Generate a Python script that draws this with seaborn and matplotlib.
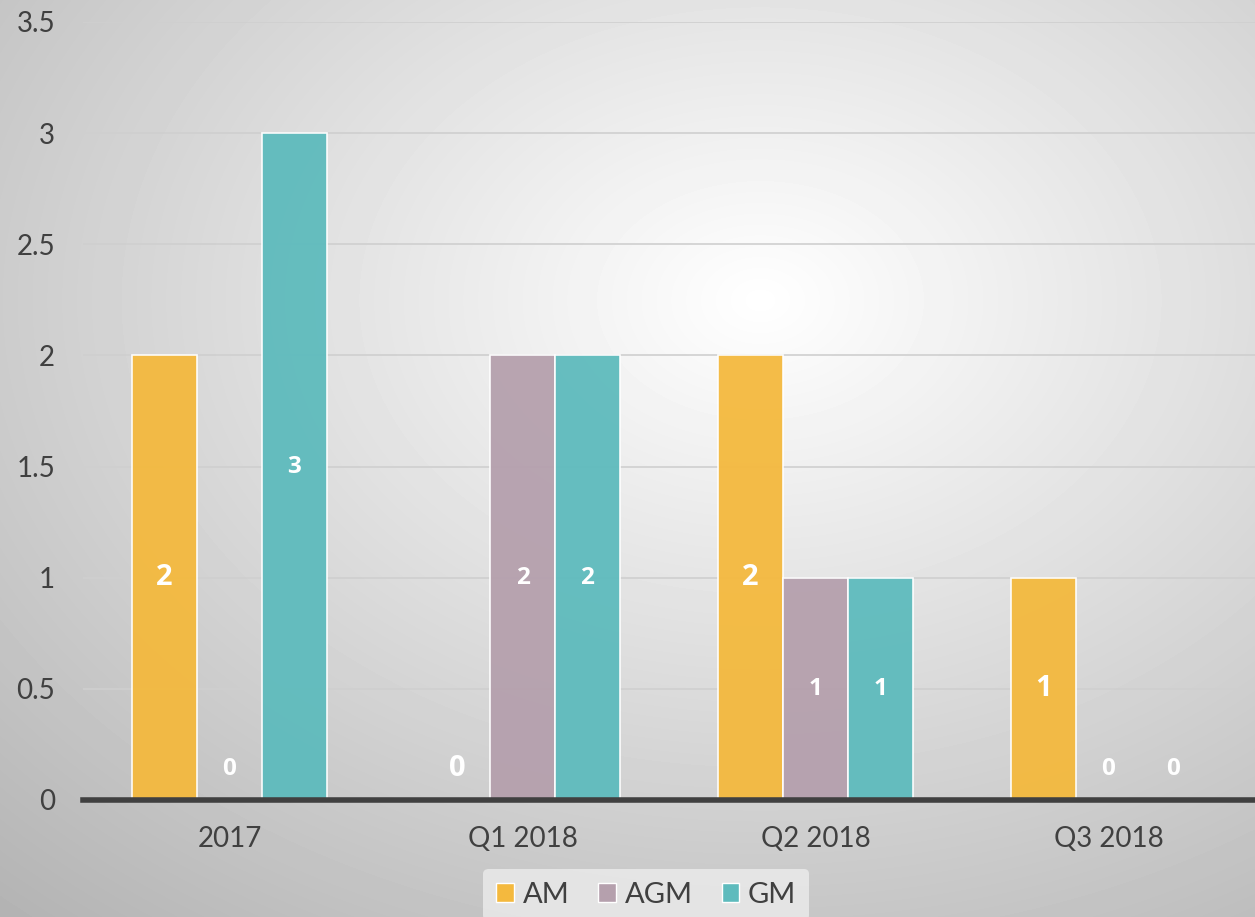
import numpy as np
import pandas as pd
import matplotlib
matplotlib.use("Agg")
import matplotlib.pyplot as plt
import seaborn as sns
from matplotlib.patches import Patch

# datos del grafico
periodos = ["2017", "Q1 2018", "Q2 2018", "Q3 2018"]
series = ["AM", "AGM", "GM"]
am = [2, 0, 2, 1]
agm = [0, 2, 1, 0]
gm = [3, 2, 1, 0]
colores = ["#F4B93E", "#B5A0AD", "#5EBBBD"]

df = pd.DataFrame({
    "periodo": periodos * 3,
    "serie": ["AM"] * 4 + ["AGM"] * 4 + ["GM"] * 4,
    "valor": am + agm + gm,
})

sns.set_style("white")
plt.rcParams["font.family"] = ["Lato", "DejaVu Sans"]

fig = plt.figure(figsize=(12.55, 9.17), dpi=100)

# fondo con degradado radial
bg = fig.add_axes([0, 0, 1, 1], zorder=-10)
yy, xx = np.mgrid[0:917, 0:1255]
dist = np.sqrt(((xx - 760) / 1255) ** 2 + ((yy - 300) / 917) ** 2)
grad = np.clip(1.0 - 0.33 * dist, 0, 1)
bg.imshow(grad, cmap="gray", vmin=0, vmax=1, aspect="auto", interpolation="bilinear")
bg.axis("off")

ax = fig.add_axes([83 / 1255, 1 - 800 / 917, 1 - 83 / 1255, (800 - 22) / 917])
ax.patch.set_alpha(0)

sns.barplot(data=df, x="periodo", y="valor", hue="serie", order=periodos,
            hue_order=series, palette=colores, saturation=1, width=0.665, ax=ax,
            edgecolor="white", linewidth=1.2, alpha=0.95, legend=False, zorder=3)

ax.set_ylim(0, 3.5)
ax.set_yticks(np.arange(0, 3.51, 0.5))
ax.set_yticklabels(["0", "0.5", "1", "1.5", "2", "2.5", "3", "3.5"])
ax.set_xlabel("")
ax.set_ylabel("")
ax.yaxis.grid(True, color="#cfcfcf", linewidth=1.2, zorder=0)
ax.set_axisbelow(True)
for s in ["top", "right", "left"]:
    ax.spines[s].set_visible(False)
ax.spines["bottom"].set_color("#404040")
ax.spines["bottom"].set_linewidth(4)
ax.spines["bottom"].set_zorder(5)
ax.tick_params(axis="y", length=0, pad=20, labelsize=20, labelcolor="#404040")
ax.tick_params(axis="x", length=0, pad=19, labelsize=20, labelcolor="#404040")

# etiquetas de datos
tamanos = [21, 17.5, 17.5]
for cont, tam in zip(ax.containers, tamanos):
    for bar in cont:
        h = bar.get_height()
        y = h / 2 if h > 0 else 0.14
        ax.text(bar.get_x() + bar.get_width() / 2, y, f"{h:g}", color="white",
                fontsize=tam, fontweight="bold", ha="center", va="center",
                family=["Open Sans", "DejaVu Sans"], zorder=6)

handles = [Patch(facecolor=c, edgecolor="white", label=s) for s, c in zip(series, colores)]
leg = fig.legend(handles=handles, loc="lower center", bbox_to_anchor=(0.515, -0.02), ncol=3,
                 fontsize=21, frameon=True, handlelength=0.6, handleheight=0.6,
                 handletextpad=0.3, columnspacing=1.0, borderpad=0.45)
leg.get_frame().set_facecolor("#ececec")
leg.get_frame().set_edgecolor("none")
for t in leg.get_texts():
    t.set_color("#404040")

fig.savefig("out.png", dpi=100)
